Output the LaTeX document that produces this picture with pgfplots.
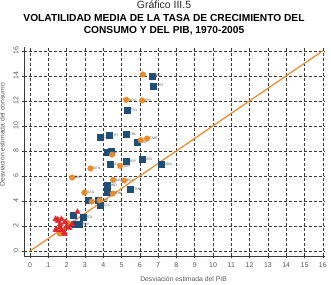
\documentclass[border=0pt]{standalone}
\usepackage{pgfplots}
\pgfplotsset{compat=1.18}
\usepackage{fontspec}
\setmainfont{Liberation Sans}
\definecolor{navy}{HTML}{1F4E79}
\definecolor{naranja}{HTML}{E98A2C}
\definecolor{rojo}{HTML}{E3262B}
\definecolor{rejilla}{HTML}{3A3A3A}
\definecolor{etiq}{HTML}{5A5A5A}

\pgfplotstableread{
x y lab
6.67 14.00 NIC
6.74 13.20 PER
5.32 11.25 TTO
3.86 9.12 GUY
4.35 9.22 HTI
5.28 9.36 CHL
5.83 8.72 VEN
4.23 7.87 BRA
4.43 8.00 {}
4.37 6.96 SLV
5.25 7.20 URY
6.12 7.36 ARG
7.18 6.90 DMA
4.19 5.23 HND
4.23 4.67 {}
5.50 4.96 PAN
3.17 4.03 {}
3.72 4.03 MEX
3.86 3.65 ECU
2.35 2.83 {}
2.90 2.72 BOL
2.48 2.16 {}
2.70 2.16 PRY
}\latam

\pgfplotstableread{
x y lab
6.17 14.10 {}
5.25 12.08 NGA
6.12 12.03 IRN
6.05 8.85 {}
6.39 8.98 CMR
4.48 7.70 {}
3.30 6.60 KEN
4.92 6.80 SEN
2.30 5.87 ZAF
4.54 5.68 MAR
5.14 5.63 EGY
2.97 4.67 SAU
3.37 3.95 {}
3.80 4.05 {}
4.52 4.59 IDN
1.82 1.70 {}
2.05 2.25 {}
1.62 1.40 {}
}\otros

\pgfplotstableread{
x y
1.40 2.56
1.55 2.40
1.72 2.55
1.91 2.30
1.62 1.90
2.00 1.95
1.73 1.66
1.40 1.70
1.87 1.50
2.28 2.13
2.59 3.12
1.51 2.50
1.46 1.68
1.88 1.36
2.15 1.85
1.65 2.15
}\ocde

\begin{document}
\begin{tikzpicture}
\begin{axis}[
  name=ax,
  scale only axis,
  width=301pt, height=209pt,
  xmin=-0.33, xmax=16.12,
  ymin=-0.4, ymax=16.3,
  axis lines=left,
  axis line style={-, rejilla, line width=0.6pt},
  xtick={0,...,16},
  ytick={0,2,...,16},
  grid=major,
  grid style={rejilla, line width=0.5pt, dash pattern=on 3pt off 2pt},
  tick align=center,
  major tick length=4pt,
  tick style={rejilla, line width=0.5pt},
  /pgf/number format/assume math mode=true,
  tick label style={font=\fontsize{7}{8}\selectfont, text=etiq},
  xticklabel style={yshift=-1pt},
  yticklabel style={rotate=90, anchor=south},
  xlabel={Desviación estimada del PIB},
  ylabel={Desviación estimada del consumo},
  label style={font=\fontsize{6.8}{7}\selectfont, text=etiq},
  xlabel style={at={(ticklabel cs:0.53)}, anchor=north, yshift=-2.5pt},
  ylabel style={at={(ticklabel cs:0.58)}, anchor=south, yshift=2pt},
  clip=false,
]
\addplot[naranja, line width=1.2pt] coordinates {(0,0) (16,16)};

\addplot[only marks, mark=square*, mark size=3pt, mark options={navy},
  nodes near coords, point meta=explicit symbolic,
  nodes near coords style={anchor=west, font=\fontsize{3.5}{4}\selectfont, text=etiq, inner sep=1pt, xshift=1.5pt}]
  table[x=x, y=y, meta=lab] {\latam};

\addplot[only marks, mark=*, mark size=2.8pt, mark options={naranja},
  nodes near coords, point meta=explicit symbolic,
  nodes near coords style={anchor=west, font=\fontsize{3.5}{4}\selectfont, text=etiq, inner sep=1pt, xshift=1.5pt}]
  table[x=x, y=y, meta=lab] {\otros};

\addplot[only marks, mark=triangle*, mark size=3.2pt, mark options={rojo}]
  table[x=x, y=y] {\ocde};
\end{axis}

% titles, set on fixed baselines above the plot area
\path (ax.north west) ++(140pt,0) coordinate (tc);
\node[anchor=base, inner sep=0pt, font=\fontsize{10.5}{12}\selectfont, text=black!85]
  at ([yshift=38pt]tc) {Gráfico III.5};
\node[anchor=base, inner sep=0pt, font=\fontsize{10.2}{12}\selectfont\bfseries]
  at ([yshift=25.5pt]tc) {VOLATILIDAD MEDIA DE LA TASA DE CRECIMIENTO DEL};
\node[anchor=base, inner sep=0pt, font=\fontsize{10.2}{12}\selectfont\bfseries]
  at ([yshift=13pt]tc) {CONSUMO Y DEL PIB, 1970-2005};

\pgfresetboundingbox
\useasboundingbox ([xshift=-24pt, yshift=-28pt]ax.south west)
  rectangle ([xshift=6pt, yshift=47pt]ax.north east);
\end{tikzpicture}
\end{document}
